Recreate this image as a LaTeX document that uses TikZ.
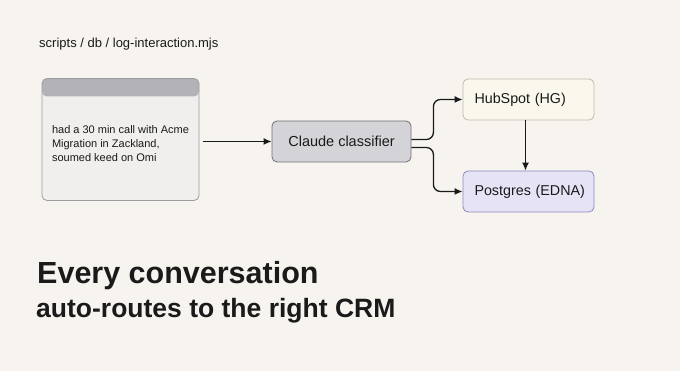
\documentclass[tikz,border=0pt]{standalone}
\usepackage{fontspec}
\setmainfont{Liberation Sans}
\usetikzlibrary{arrows.meta}
\definecolor{PaperCream}{HTML}{F7F4EF}
\definecolor{InkBlack}{HTML}{1A1A1A}
\definecolor{WinFill}{HTML}{F0EFEE}
\definecolor{WinHead}{HTML}{B3B2B6}
\definecolor{WinBorder}{HTML}{9C9BA0}
\definecolor{ClsFill}{HTML}{D4D4D8}
\definecolor{ClsBorder}{HTML}{707074}
\definecolor{HubFill}{HTML}{FAF7EC}
\definecolor{HubBorder}{HTML}{BFB9AC}
\definecolor{PgFill}{HTML}{E6E3F6}
\definecolor{PgBorder}{HTML}{8C88C0}
\tikzset{
  caption/.style={anchor=base west, inner sep=0pt, text=InkBlack},
  box/.style={rounded corners=5pt, line width=0.8pt, minimum height=41pt, text=InkBlack},
  crmbox/.style={box, text width=108pt, inner xsep=11.5pt, align=left,
    font=\fontsize{14.3}{17}\selectfont},
  flow/.style={draw=InkBlack, line width=1.3pt, -{Latex[length=8pt,width=7pt]}}
}

\begin{document}
\begin{tikzpicture}[x=1pt,y=1pt]
  \fill[PaperCream] (0,0) rectangle (680,371);
  \useasboundingbox (0,0) rectangle (680,371);
  \node[caption, font=\fontsize{13}{15}\selectfont] (script) at (39,323)
    {scripts / db / log-interaction.mjs};
  \node[box, draw=WinBorder, fill=WinFill, minimum width=157pt, minimum height=122pt,
        align=left, font=\fontsize{11}{14}\selectfont,
        path picture={\fill[WinHead] (path picture bounding box.north west)
          rectangle ([yshift=-18pt]path picture bounding box.north east);}]
    (msg) at (120.5,231.5)
    {\rule{0pt}{16pt}had a 30 min call with Acme\\Migration in Zackland,\\soumed keed on Omi};
  \node[box, draw=ClsBorder, fill=ClsFill, minimum width=139pt,
        font=\fontsize{14.5}{17}\selectfont] (cls) at (341.5,229.5) {Claude classifier};
  \node[crmbox, draw=HubBorder, fill=HubFill] (hub) at (528.5,271.5) {HubSpot (HG)};
  \node[crmbox, draw=PgBorder, fill=PgFill] (pg) at (528.5,179.5) {Postgres~(EDNA)};
  \draw[flow, shorten <=4pt] (msg.east |- cls.west) -- (cls.west);
  \draw[flow, rounded corners=7pt] ([yshift=2pt]cls.east) -- ++(22,0) |- (hub.west);
  \draw[flow, rounded corners=7pt] ([yshift=-6pt]cls.east) -- ++(22,0) |- (pg.west);
  \draw[flow] ([xshift=-3pt]hub.south) -- ([xshift=-3pt]pg.north);
  \node[caption, font=\bfseries\fontsize{30.5}{34}\selectfont] (headline) at (37,87)
    {Every conversation};
  \node[caption, font=\bfseries\fontsize{26.5}{30}\selectfont] (subline) at (36,53)
    {auto-routes to the right CRM};
\end{tikzpicture}
\end{document}
